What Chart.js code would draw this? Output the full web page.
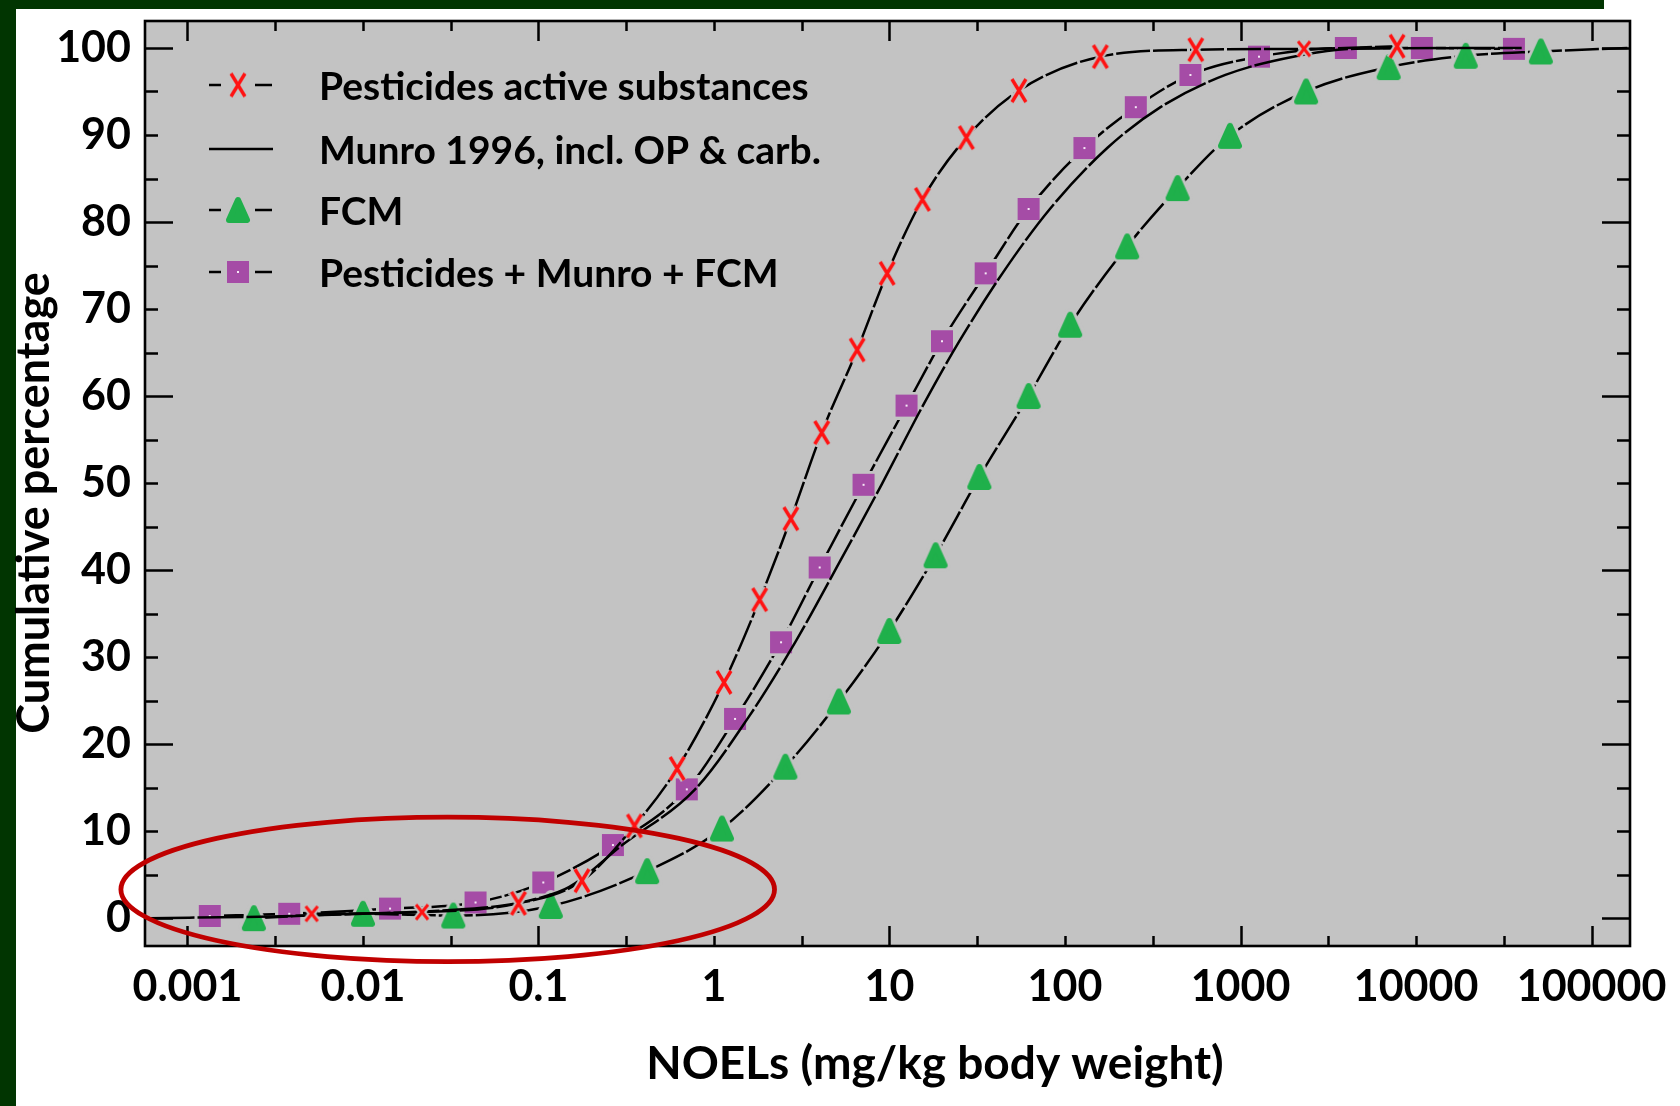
<!DOCTYPE html>
<html><head><meta charset="utf-8">
<script src="https://cdn.jsdelivr.net/npm/chart.js@4.4.1/dist/chart.umd.min.js"></script>
<style>html,body{margin:0;padding:0;background:#fff;overflow:hidden}#wrap{width:1680px;height:1106px;position:relative}</style>
</head><body><div id="wrap"><canvas id="c" width="1680" height="1106"></canvas></div>
<script>
// ---------- data ----------
const xTickValues = [0.001, 0.01, 0.1, 1, 10, 100, 1000, 10000, 100000];
const xTickLabels = ["0.001", "0.01", "0.1", "1", "10", "100", "1000", "10000", "100000"];
const yTickValues = [0, 10, 20, 30, 40, 50, 60, 70, 80, 90, 100];
const seriesNames = ["Pesticides active substances", "Munro 1996, incl. OP & carb.", "FCM", "Pesticides + Munro + FCM"];
const xTitle = "NOELs (mg/kg body weight)";
const yTitle = "Cumulative percentage";

const pestX = [0.0051, 0.0217, 0.0769, 0.177, 0.352, 0.617, 1.14, 1.82, 2.74, 4.11, 6.54, 9.70, 15.4, 27.4, 54.6, 159, 556, 2300, 7800];
const pestY = [0.5, 0.7, 1.7, 4.3, 10.6, 17.2, 27.1, 36.6, 45.9, 55.8, 65.3, 74.1, 82.6, 89.7, 95.1, 99.0, 99.8, 99.9, 100.2];

const munroX = [0.0006, 0.003, 0.01, 0.03, 0.06, 0.1, 0.15, 0.3, 0.78, 1.55, 2.9, 5.0, 9.0, 15.5, 25, 44, 82, 174, 350, 820, 2000, 4500, 40000];
const munroY = [0, 0.2, 0.5, 0.9, 1.4, 2.3, 3.6, 8.4, 14.8, 22.9, 31.7, 40.3, 49.8, 58.9, 66.3, 74.1, 81.5, 88.5, 93.2, 96.9, 99.0, 99.9, 100];

const fcmX = [0.00239, 0.0100, 0.0327, 0.1175, 0.416, 1.11, 2.55, 5.15, 9.97, 18.3, 32.5, 62.0, 107, 226, 438, 871, 2364, 6980, 19190, 51400, 160000];
const fcmY = [0.0, 0.5, 0.3, 1.4, 5.4, 10.3, 17.4, 24.9, 33.0, 41.7, 50.7, 60.0, 68.2, 77.2, 83.9, 89.9, 95.0, 97.8, 99.1, 99.6, 100];

const combX = [0.00134, 0.0038, 0.01426, 0.0438, 0.1065, 0.2655, 0.700, 1.318, 2.41, 4.00, 7.11, 12.5, 19.9, 35.3, 62.0, 129, 253, 518, 1274, 3980, 10790, 36100];
const combY = [0.25, 0.5, 1.1, 1.8, 4.1, 8.4, 14.8, 22.9, 31.7, 40.3, 49.8, 58.9, 66.3, 74.1, 81.5, 88.5, 93.2, 96.9, 99.0, 100, 100, 99.9];

// highlighted region (red ellipse), in data units
const highlightCenterX = 0.0304, highlightHalfDecades = 1.862, highlightCenterY = 3.3, highlightHalfY = 8.3;

const xMin = 0.000573, xMax = 165600, yMin = -3.2, yMax = 103.1;

// ---------- styles ----------
const BG = '#c3c3c3';
const FONT = 'Lato';
function mk(w, h, draw) { const c = document.createElement('canvas'); c.width = w; c.height = h; draw(c.getContext('2d'), w, h); return c; }
function makeX(w, h, lw) {
  return mk(w + 6, h + 6, (g, W, H) => {
    const p = 3;
    const path = () => { g.beginPath(); g.moveTo(p, p); g.lineTo(W - p, H - p); g.moveTo(W - p, p); g.lineTo(p, H - p); };
    path(); g.strokeStyle = BG; g.lineWidth = lw + 4; g.stroke();
    path(); g.strokeStyle = '#ff1212'; g.lineWidth = lw; g.stroke();
  });
}
function makeTri(w, h) {
  return mk(w + 8, h + 8, (g, W, H) => {
    const r = 3;
    const pts = [[W / 2, 4 + r], [W - 4 - r, H - 4 - r], [4 + r, H - 4 - r]];
    g.lineJoin = 'round';
    const path = () => { g.beginPath(); g.moveTo(pts[0][0], pts[0][1]); g.lineTo(pts[1][0], pts[1][1]); g.lineTo(pts[2][0], pts[2][1]); g.closePath(); };
    path(); g.strokeStyle = BG; g.lineWidth = 2 * r + 6; g.stroke();
    path(); g.fillStyle = '#1fb04b'; g.fill(); g.strokeStyle = '#1fb04b'; g.lineWidth = 2 * r; g.stroke();
  });
}
function makeSq(s) {
  return mk(s + 6, s + 6, (g, W, H) => {
    g.fillStyle = BG; g.fillRect(0, 0, W, H);
    g.fillStyle = '#a54ca6'; g.fillRect(3, 3, s, s);
    g.fillStyle = '#f6e8f6'; g.fillRect(W / 2 - 1, H / 2 - 1, 2, 2);
  });
}
const imgXBig = makeX(14, 23, 3.4), imgXSmall = makeX(12, 15, 3), imgTri = makeTri(24, 26), imgSq = makeSq(22);

const pts = (xs, ys) => xs.map((x, i) => ({ x: x, y: ys[i] }));
const lineBase = { borderColor: '#000', borderWidth: 2.5, fill: false, cubicInterpolationMode: 'monotone', pointBorderWidth: 0 };
const DASH = [34, 3];

const datasets = [
  Object.assign({}, lineBase, { label: seriesNames[0], data: pts(pestX, pestY), borderDash: DASH,
    pointStyle: c => (c.dataIndex < 2 || c.dataIndex === 17) ? imgXSmall : imgXBig, legendImg: imgXBig }),
  Object.assign({}, lineBase, { label: seriesNames[1], data: pts(munroX, munroY), borderDash: [46, 3], pointStyle: false, legendImg: null }),
  Object.assign({}, lineBase, { label: seriesNames[2], data: pts(fcmX, fcmY), borderDash: DASH,
    pointStyle: c => c.dataIndex === fcmX.length - 1 ? false : imgTri, legendImg: imgTri }),
  Object.assign({}, lineBase, { label: seriesNames[3], data: pts(combX, combY), borderDash: DASH, pointStyle: imgSq, legendImg: imgSq })
];

const decor = {
  id: 'decor',
  beforeDraw(chart) {
    const { ctx, chartArea: a } = chart;
    ctx.save();
    ctx.fillStyle = '#fff'; ctx.fillRect(0, 0, chart.width, chart.height);
    ctx.fillStyle = '#013501'; ctx.fillRect(0, 0, 16, chart.height); ctx.fillRect(0, 0, 1604, 9);
    ctx.fillStyle = BG; ctx.fillRect(a.left, a.top, a.right - a.left, a.bottom - a.top);
    ctx.restore();
  },
  afterDatasetsDraw(chart) {
    const { ctx, chartArea: a, scales } = chart;
    const xs = scales.x, ys = scales.y;
    ctx.save();
    ctx.strokeStyle = '#000'; ctx.lineWidth = 2.5;
    ctx.beginPath();
    for (let k = -3; k <= 5; k++) {
      for (const h of [0, 0.5]) {
        const v = Math.pow(10, k + h);
        if (v < xMin || v > xMax) continue;
        const px = Math.round(xs.getPixelForValue(v)) + 0.5;
        const len = (h === 0 && Math.abs(k) % 2 === 1) ? 20 : 10;
        ctx.moveTo(px, a.bottom); ctx.lineTo(px, a.bottom - len);
        ctx.moveTo(px, a.top); ctx.lineTo(px, a.top + len);
      }
    }
    for (let v = 0; v <= 100; v += 5) {
      const py = Math.round(ys.getPixelForValue(v)) + 0.5;
      const len = v % 20 === 0 ? 28 : 13;
      ctx.moveTo(a.left, py); ctx.lineTo(a.left + len, py);
      ctx.moveTo(a.right, py); ctx.lineTo(a.right - len, py);
    }
    ctx.stroke();
    ctx.lineWidth = 2.6;
    ctx.strokeRect(a.left, a.top, a.right - a.left, a.bottom - a.top);
    ctx.restore();
  },
  afterDraw(chart) {
    const { ctx, scales } = chart;
    const xs = scales.x, ys = scales.y;
    ctx.save();
    // legend
    const rows = [85, 149, 210, 272];
    ctx.font = 'bold 39px ' + FONT; ctx.fillStyle = '#000'; ctx.textBaseline = 'middle'; ctx.textAlign = 'left';
    chart.data.datasets.forEach((d, i) => {
      const y = rows[i];
      ctx.strokeStyle = '#000'; ctx.lineWidth = 2.4;
      ctx.beginPath();
      if (d.legendImg) {
        ctx.moveTo(209, y); ctx.lineTo(221, y);
        ctx.moveTo(255, y); ctx.lineTo(272, y);
      } else {
        ctx.moveTo(209, y); ctx.lineTo(273, y);
      }
      ctx.stroke();
      if (d.legendImg) ctx.drawImage(d.legendImg, 238 - d.legendImg.width / 2, y - d.legendImg.height / 2);
      ctx.fillText(d.label, 319, y + 2);
    });
    // axis titles
    ctx.font = 'bold 46px ' + FONT; ctx.textAlign = 'center'; ctx.textBaseline = 'middle';
    ctx.fillText(xTitle, 935, 1064);
    ctx.save(); ctx.translate(34, 503); ctx.rotate(-Math.PI / 2);
    ctx.font = 'bold 45px ' + FONT; ctx.fillText(yTitle, 0, 0); ctx.restore();
    // highlight ellipse
    const lc = Math.log10(highlightCenterX);
    const x1 = xs.getPixelForValue(Math.pow(10, lc - highlightHalfDecades));
    const x2 = xs.getPixelForValue(Math.pow(10, lc + highlightHalfDecades));
    const y1 = ys.getPixelForValue(highlightCenterY + highlightHalfY);
    const y2 = ys.getPixelForValue(highlightCenterY - highlightHalfY);
    ctx.beginPath();
    ctx.ellipse((x1 + x2) / 2, (y1 + y2) / 2, (x2 - x1) / 2, (y2 - y1) / 2, 0, 0, Math.PI * 2);
    ctx.strokeStyle = '#c00000'; ctx.lineWidth = 4.8; ctx.stroke();
    ctx.restore();
  }
};

new Chart(document.getElementById('c'), {
  type: 'line',
  data: { datasets: datasets },
  options: {
    responsive: false, animation: false,
    layout: { padding: { top: 21, right: 50, left: 0, bottom: 0 } },
    plugins: { legend: { display: false }, tooltip: { enabled: false } },
    scales: {
      x: {
        type: 'logarithmic', min: xMin, max: xMax, position: 'bottom',
        afterBuildTicks: s => { s.ticks = xTickValues.map(v => ({ value: v, major: false })); },
        ticks: { callback: (v, i) => xTickLabels[i], font: { family: FONT, weight: 'bold', size: 43 }, color: '#000', padding: 15, maxRotation: 0, autoSkip: false },
        grid: { display: false, drawTicks: false }, border: { display: false },
        afterFit: s => { s.height = 160; s.paddingLeft = 0; s.paddingRight = 0; }
      },
      y: {
        type: 'linear', min: yMin, max: yMax,
        afterBuildTicks: s => { s.ticks = yTickValues.map(v => ({ value: v })); },
        ticks: { font: { family: FONT, weight: 'bold', size: 43 }, color: '#000', padding: 14 },
        grid: { display: false, drawTicks: false }, border: { display: false },
        afterFit: s => { s.width = 145; s.paddingTop = 0; s.paddingBottom = 0; }
      }
    }
  },
  plugins: [decor]
});
</script></body></html>
